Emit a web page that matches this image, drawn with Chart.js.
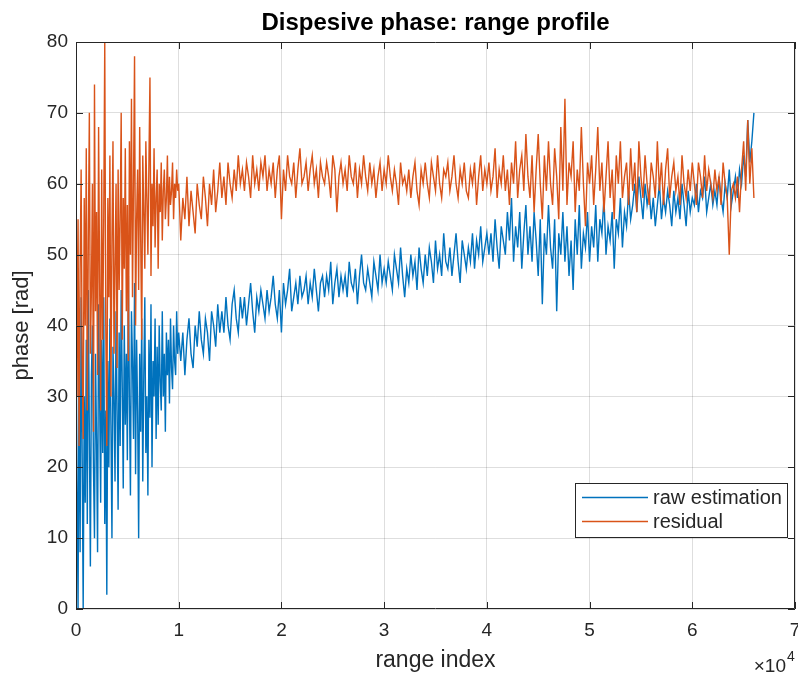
<!DOCTYPE html>
<html>
<head>
<meta charset="utf-8">
<script src="https://cdn.jsdelivr.net/npm/chart.js@4.4.1/dist/chart.umd.min.js"></script>
<style>
  html, body { margin: 0; padding: 0; background: #fff; }
</style>
</head>
<body>
<canvas id="myChart" width="798" height="677"></canvas>
<script>
const ctx = document.getElementById("myChart").getContext("2d");

// sampling of the range index: denser near the start
const nearStep = 100;   // x = 0 .. 10000
const farStart = 10200;
const farStep = 200;    // x = 10200 .. 66000

// raw estimation, x = 0 .. 10000
const rawNear = [
  42, 18, 0, 35, 8, 44, 22, 0, 30, 15,
  38, 12, 45, 25, 6, 33, 40, 20, 10, 36,
  24, 8, 43, 30, 15, 38, 22, 44, 12, 28,
  2, 35, 20, 41, 26, 10, 37, 30, 18, 42,
  28, 14, 39, 23, 45, 32, 17, 40, 26, 36,
  21, 47, 30, 16, 42, 35, 24, 46, 19, 38,
  28, 10, 36, 25, 41, 18, 33, 44, 22, 30,
  16, 38, 27, 43, 20, 35, 30, 41, 24, 37,
  26, 40, 32, 28, 42, 30, 36, 25, 39, 33,
  38, 29, 41, 34, 31, 40, 35, 33, 42, 36,
  39,
];
// raw estimation, x = 10200 .. 66000
const rawFar = [
  35, 39, 33, 38, 41, 36, 34, 40, 37, 42,
  38, 36, 41, 39, 35, 42, 40, 37, 43, 39,
  42, 39, 44, 40, 38, 43, 45, 41, 39, 44,
  41, 44, 40, 43, 46, 42, 39, 44, 42, 45,
  43, 41, 45, 42, 44, 47, 43, 41, 45, 39,
  46, 43, 45, 48, 42, 44, 46, 43, 47, 44,
  45, 47, 43, 46, 44, 48, 45, 42, 46, 47,
  44, 47, 45, 49, 43, 46, 48, 44, 47, 45,
  47, 44, 49, 46, 45, 48, 43, 47, 50, 46,
  45, 48, 46, 44, 49, 47, 45, 50, 46, 48,
  46, 49, 47, 45, 50, 48, 46, 51, 47, 44,
  48, 46, 50, 47, 49, 45, 51, 48, 46, 50,
  47, 51, 49, 46, 52, 48, 50, 47, 53, 49,
  48, 51, 47, 50, 53, 49, 46, 52, 50, 48,
  51, 49, 53, 48, 52, 50, 54, 49, 51, 53,
  50, 53, 49, 55, 51, 48, 54, 52, 50, 56,
  52, 58, 49, 54, 51, 56, 48, 53, 57, 50,
  54, 49, 56, 52, 47, 55, 43, 53, 50, 57,
  51, 48, 55, 42, 53, 50, 56, 49, 54, 47,
  52, 45, 55, 50, 57, 48, 53, 51, 56, 49,
  54, 51, 57, 49, 55, 53, 58, 50, 54, 52,
  56, 48, 55, 53, 58, 51, 56, 54, 59, 55,
  57, 60, 56, 61, 58, 55, 60, 57, 59, 55,
  58, 54, 57, 60, 55, 58, 56, 59, 57, 54,
  59, 56, 58, 55, 60, 57, 54, 59, 56, 58,
  57, 60, 56, 59, 58, 61, 56, 58, 60, 57,
  59, 57, 61, 58, 56, 60, 58, 62, 57, 59,
  61, 58, 62, 60, 64, 61, 69, 63, 66, 70,
];

// residual, x = 0 .. 10000
const resNear = [
  67, 30, 55, 23, 48, 62, 35, 24, 58, 40,
  65, 28, 52, 70, 36, 45, 60, 25, 74, 42,
  56, 33, 68, 46, 28, 62, 38, 55, 80, 40,
  23, 58, 44, 64, 30, 52, 66, 36, 48, 60,
  34, 62, 45, 55, 70, 38, 58, 48, 65, 42,
  57, 35, 66, 50, 72, 44, 60, 78, 40, 55,
  62, 45, 68, 52, 38, 64, 56, 48, 66, 58,
  50, 63, 75, 47, 60, 54, 65, 51, 58, 62,
  48, 60, 56, 63, 52, 59, 62, 55, 58, 64,
  54, 61, 57, 59, 63, 55, 60, 58, 62, 59,
  60,
];
// residual, x = 10200 .. 66000
const resFar = [
  52, 58, 55, 61, 54, 59, 56, 53, 60, 57,
  55, 61, 58, 54, 60, 57, 62, 56, 59, 63,
  58, 61, 57, 63, 60, 58, 62, 59, 64, 60,
  62, 59, 63, 61, 58, 64, 60, 62, 59, 63,
  61, 64, 59, 62, 60, 63, 58, 62, 64, 55,
  62, 59, 64, 61, 60, 63, 58, 62, 65, 60,
  61, 63, 59, 62, 64, 60, 62, 58, 63, 61,
  60, 63, 61, 58, 64, 62, 56, 61, 63, 60,
  62, 59, 64, 61, 60, 63, 58, 62, 60, 64,
  61, 59, 63, 60, 62, 58, 61, 63, 59, 62,
  60, 64, 61, 59, 62, 60, 57, 63, 60, 61,
  59, 62, 58, 61, 63, 59, 57, 62, 60, 63,
  60, 58, 63, 61, 59, 64, 60, 58, 62, 61,
  63, 59, 61, 64, 60, 58, 62, 60, 63, 59,
  58, 62, 60, 63, 57, 61, 64, 59, 62, 60,
  63, 59, 61, 65, 58, 62, 60, 64, 59, 62,
  57, 63, 60, 66, 58, 62, 64, 59, 67, 61,
  58, 64, 56, 62, 67, 60, 55, 64, 59, 66,
  60, 57, 65, 61, 55, 68, 59, 72, 57, 63,
  61, 66, 56, 62, 59, 68, 60, 54, 63, 60,
  64, 57, 62, 68, 59, 63, 56, 61, 66, 58,
  62, 55, 64, 60, 66, 58, 61, 63, 57, 65,
  59, 63, 56, 66, 61, 58, 64, 60, 57, 63,
  61, 58, 66, 59, 63, 57, 62, 65, 58, 61,
  63, 59, 61, 57, 64, 60, 58, 62, 59, 63,
  60, 57, 63, 61, 58, 64, 59, 62, 60, 58,
  62, 59, 61, 57, 63, 60, 58, 50, 59, 60,
  58, 61, 56, 62, 66, 59, 69, 60, 65, 58,
];

const xTicks = [0, 1, 2, 3, 4, 5, 6, 7];
const yTicks = [0, 10, 20, 30, 40, 50, 60, 70, 80];
const seriesNames = ["raw estimation", "residual"];
const blue = "#0072BD";
const orange = "#D95319";
const ink = "#262626";
const FONT = "'Liberation Sans', Arial, sans-serif";

function toPoints(near, far) {
  const pts = [];
  near.forEach((v, i) => pts.push({ x: i * nearStep, y: v }));
  far.forEach((v, i) => pts.push({ x: farStart + i * farStep, y: v }));
  return pts;
}

// title, box, inward ticks, legend, exponent
const matlabDecor = {
  id: "matlabDecor",
  afterDraw(chart) {
    const c = chart.ctx;
    const a = chart.chartArea;
    const xs = chart.scales.x, ys = chart.scales.y;
    c.save();
    c.strokeStyle = ink;
    c.lineWidth = 1;
    c.beginPath();
    c.rect(a.left + 0.5, a.top + 0.5, a.right - a.left - 1, a.bottom - a.top - 1);
    c.stroke();
    const tl = 7;
    c.beginPath();
    xTicks.forEach(t => {
      const px = Math.round(xs.getPixelForValue(t * 10000)) + 0.5;
      c.moveTo(px, a.bottom); c.lineTo(px, a.bottom - tl);
      c.moveTo(px, a.top); c.lineTo(px, a.top + tl);
    });
    yTicks.forEach(t => {
      const py = Math.round(ys.getPixelForValue(t)) + 0.5;
      c.moveTo(a.left, py); c.lineTo(a.left + tl, py);
      c.moveTo(a.right, py); c.lineTo(a.right - tl, py);
    });
    c.stroke();

    // title
    c.fillStyle = "#000";
    c.font = "bold 24px " + FONT;
    c.textAlign = "center";
    c.textBaseline = "alphabetic";
    c.fillText("Dispesive phase: range profile", (a.left + a.right) / 2, 30);

    // exponent label
    c.fillStyle = ink;
    c.font = "19px " + FONT;
    c.textAlign = "right";
    c.fillText("\u00d710", 786, 672);
    c.font = "14px " + FONT;
    c.textAlign = "left";
    c.fillText("4", 787, 661);

    // legend
    const lx = 575.5, ly = 483.5, lw = a.right - 8 - 575, lh = 54;
    c.fillStyle = "#fff";
    c.fillRect(lx, ly, lw, lh);
    c.strokeStyle = ink;
    c.strokeRect(lx, ly, lw, lh);
    const cols = [blue, orange];
    c.font = "20px " + FONT;
    c.textBaseline = "middle";
    seriesNames.forEach((name, i) => {
      const yy = ly + 14 + i * 24;
      c.strokeStyle = cols[i];
      c.lineWidth = 1.5;
      c.beginPath();
      c.moveTo(582, yy); c.lineTo(648, yy);
      c.stroke();
      c.fillStyle = ink;
      c.fillText(name, 653, yy + 1);
    });
    c.restore();
  },
};

const chart = new Chart(ctx, {
  type: "line",
  data: {
    datasets: [
      {
        label: seriesNames[0],
        borderColor: blue,
        data: toPoints(rawNear, rawFar),
        order: 1,
      },
      {
        label: seriesNames[1],
        borderColor: orange,
        data: toPoints(resNear, resFar),
        order: 0,
      },
    ],
  },
  options: {
    responsive: false,
    animation: false,
    devicePixelRatio: 1,
    layout: { padding: { top: 42, right: 3, left: 0, bottom: 0 } },
    elements: {
      point: { radius: 0 },
      line: { borderWidth: 1.4, tension: 0 },
    },
    plugins: {
      legend: { display: false },
      title: { display: false },
      tooltip: { enabled: false },
    },
    scales: {
      x: {
        type: "linear",
        min: 0,
        max: 70000,
        afterFit: s => { s.height = 68; s.paddingLeft = 0; s.paddingRight = 0; },
        afterBuildTicks: s => { s.ticks = xTicks.map(v => ({ value: v * 10000 })); },
        ticks: {
          color: ink,
          font: { family: FONT, size: 19 },
          padding: 10,
          maxRotation: 0,
          callback: v => v / 10000,
        },
        grid: { color: "rgba(0,0,0,0.13)", drawTicks: false },
        border: { display: false },
        title: {
          display: true,
          text: "range index",
          color: ink,
          font: { family: FONT, size: 23 },
          padding: { top: 4, bottom: 3 },
        },
      },
      y: {
        min: 0,
        max: 80,
        afterFit: s => { s.width = 76; },
        afterBuildTicks: s => { s.ticks = yTicks.map(v => ({ value: v })); },
        ticks: {
          color: ink,
          font: { family: FONT, size: 19 },
          padding: 8,
        },
        grid: { color: "rgba(0,0,0,0.13)", drawTicks: false },
        border: { display: false },
        title: {
          display: true,
          text: "phase [rad]",
          color: ink,
          font: { family: FONT, size: 22 },
          padding: { top: 9, bottom: 4 },
        },
      },
    },
  },
  plugins: [matlabDecor],
});
</script>
</body>
</html>
